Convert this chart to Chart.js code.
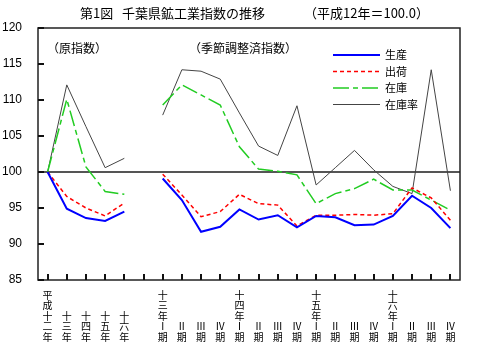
<!DOCTYPE html>
<html>
<head>
<meta charset="utf-8">
<script src="https://cdn.jsdelivr.net/npm/chart.js@4"></script>
<style>
  html, body { margin: 0; padding: 0; background: #fff; }
</style>
</head>
<body>
<canvas id="chart" width="480" height="350"></canvas>
<script>
// カテゴリ（年・四半期）
const categories = [
  '平成十二年', '十三年', '十四年', '十五年', '十六年', '',
  '十三年Ⅰ期', 'Ⅱ期', 'Ⅲ期', 'Ⅳ期',
  '十四年Ⅰ期', 'Ⅱ期', 'Ⅲ期', 'Ⅳ期',
  '十五年Ⅰ期', 'Ⅱ期', 'Ⅲ期', 'Ⅳ期',
  '十六年Ⅰ期', 'Ⅱ期', 'Ⅲ期', 'Ⅳ期',
];

const seisan = [100, 94.9, 93.6, 93.2, 94.5, null,
  99.1, 96.1, 91.7, 92.4, 94.8, 93.4, 94.0, 92.3, 93.9, 93.7, 92.6, 92.7, 93.9, 96.7, 95.0, 92.2];
const shukka = [100, 96.6, 95.0, 93.9, 95.7, null,
  99.7, 96.8, 93.8, 94.5, 96.9, 95.6, 95.4, 92.5, 94.0, 94.0, 94.1, 94.0, 94.2, 97.8, 96.4, 93.3];
const zaiko = [100, 110.1, 100.7, 97.3, 96.9, null,
  109.3, 112.1, 110.7, 109.3, 103.5, 100.4, 100.1, 99.6, 95.6, 97.0, 97.7, 99.0, 97.5, 97.5, 96.1, 94.7];
const zaikoRitsu = [100, 112.1, 106.3, 100.6, 101.9, null,
  107.9, 114.2, 114.0, 112.9, 108.2, 103.6, 102.3, 109.2, 98.2, 100.6, 103.0, 100.3, 98.0, 97.0, 114.2, 97.4];

const yTicks = [85, 90, 95, 100, 105, 110, 115, 120];

const JP = '"Noto Sans CJK JP", sans-serif';

// 縦書きラベル（下揃えにするため上を空行で埋める）
const LINES = 5;
const xLabels = categories.map(s => {
  const chars = [...s];
  while (chars.length < LINES) chars.unshift('');
  return chars;
});

/**
 * 枠・目盛・基準線・見出し・凡例を描く
 */
const decorations = {
  id: 'decorations',
  beforeDatasetsDraw(chart) {
    const { ctx, chartArea: a, scales } = chart;
    const y100 = scales.y.getPixelForValue(100);
    ctx.save();
    ctx.strokeStyle = '#555';
    ctx.lineWidth = 2;
    ctx.beginPath();
    ctx.moveTo(a.left, y100);
    ctx.lineTo(a.right, y100);
    ctx.stroke();
    ctx.restore();
  },
  afterDraw(chart) {
    const { ctx, chartArea: a, scales } = chart;
    ctx.save();
    ctx.setLineDash([]);

    // 枠
    ctx.strokeStyle = '#222';
    ctx.lineWidth = 1.5;
    ctx.strokeRect(a.left, a.top, a.right - a.left, a.bottom - a.top);

    // 内向きの目盛
    ctx.fillStyle = '#111';
    for (let i = 0; i < categories.length; i++) {
      const x = Math.round(scales.x.getPixelForTick(i));
      ctx.fillRect(x - 1, a.bottom - 6, 2, 6);
    }
    yTicks.forEach(v => {
      const y = Math.round(scales.y.getPixelForValue(v));
      ctx.fillRect(a.left, y - 1, 6, 2);
    });

    // タイトル
    ctx.fillStyle = '#000';
    ctx.textBaseline = 'middle';
    ctx.textAlign = 'left';
    ctx.font = '13px ' + JP;
    ctx.fillText('第1図', 80, 13);
    ctx.fillText('千葉県鉱工業指数の推移', 122, 13);
    ctx.fillText('（平成12年＝100.0）', 304, 13);

    // 注記
    ctx.font = '12px ' + JP;
    ctx.fillText('（原指数）', 47, 48);
    ctx.fillText('（季節調整済指数）', 189, 48);

    // 凡例
    ctx.font = '11px ' + JP;
    chart.data.datasets.forEach((ds, i) => {
      const y = 55 + i * 16.5;
      ctx.strokeStyle = ds.borderColor;
      ctx.lineWidth = ds.borderWidth;
      ctx.setLineDash(ds.borderDash || []);
      ctx.beginPath();
      ctx.moveTo(333, y);
      ctx.lineTo(380, y);
      ctx.stroke();
      ctx.setLineDash([]);
      ctx.fillStyle = '#000';
      ctx.fillText(ds.label, 385, y);
    });

    ctx.restore();
  },
};

new Chart(document.getElementById('chart').getContext('2d'), {
  type: 'line',
  data: {
    labels: xLabels,
    datasets: [
      { label: '生産', data: seisan, borderColor: '#0000ff', borderWidth: 2 },
      { label: '出荷', data: shukka, borderColor: '#ff0000', borderWidth: 1.5, borderDash: [4, 3] },
      { label: '在庫', data: zaiko, borderColor: '#22cc22', borderWidth: 1.5, borderDash: [16, 4, 5, 4] },
      { label: '在庫率', data: zaikoRitsu, borderColor: '#444', borderWidth: 1 },
    ],
  },
  options: {
    responsive: false,
    animation: false,
    layout: { padding: { top: 28, right: 20, left: 0, bottom: 0 } },
    elements: {
      point: { radius: 0 },
      line: { tension: 0, fill: false },
    },
    spanGaps: false,
    plugins: {
      legend: { display: false },
      tooltip: { enabled: false },
    },
    scales: {
      x: {
        offset: true,
        grid: { display: false, offset: false },
        border: { display: false },
        ticks: {
          autoSkip: false,
          maxRotation: 0,
          minRotation: 0,
          padding: 2,
          color: '#000',
          font: { family: JP, size: 10, lineHeight: 1.04 },
        },
        afterFit: (scale) => { scale.height = 70; },
      },
      y: {
        min: 85,
        max: 120,
        afterBuildTicks: (scale) => { scale.ticks = yTicks.map(v => ({ value: v })); },
        grid: { display: false },
        border: { display: false },
        ticks: {
          padding: 8,
          color: '#000',
          font: { family: '"Liberation Sans", Arial, sans-serif', size: 12 },
        },
        afterFit: (scale) => { scale.width = 38; },
      },
    },
  },
  plugins: [decorations],
});
</script>
</body>
</html>
